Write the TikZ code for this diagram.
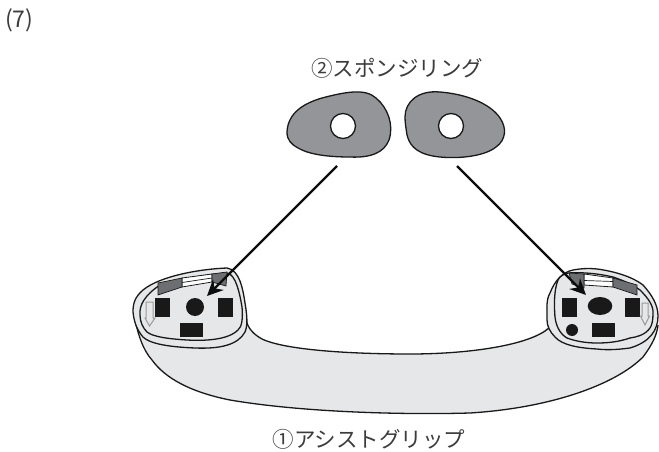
\documentclass[tikz,border=0pt]{standalone}
\usepackage{fontspec}
\setmainfont{Noto Sans CJK JP}[Scale=1]
\usetikzlibrary{arrows.meta}
\definecolor{gripfill}{HTML}{E6E7E8}
\definecolor{spongefill}{HTML}{939598}
\definecolor{tabfill}{HTML}{6D6E71}
\definecolor{inklabel}{HTML}{3C3C3C}
\tikzset{
  lbl/.style={font=\fontsize{21.5}{24}\selectfont,text=inklabel,inner sep=0pt},
  sponge/.style={draw=black!90,line width=1.3pt,fill=spongefill},
  hole/.style={circle,draw=black!90,line width=1.3pt,fill=white,minimum size=25pt,inner sep=0pt},
  gripline/.style={draw=black!90,line width=1.3pt},
  solid part/.style={fill=black!90,draw=none},
  pointer/.style={draw=black!95,line width=2.2pt,-{Stealth[length=16pt,width=15pt]}},
  slider/.style={draw=black!90,line width=.8pt,fill=white},
  tab/.style={draw=black!90,line width=.7pt,fill=tabfill},
  downarrow/.style={draw=black!40,line width=1pt,fill=gripfill}
}
\begin{document}
\begin{tikzpicture}[x=1pt,y=-1pt]
\useasboundingbox (0,0) rectangle (659,452);
\fill[white] (0,0) rectangle (659,452);
\node[lbl,anchor=west,font=\fontsize{23}{26}\selectfont] (num) at (5,20) {(7)};
\node[lbl] (lab2) at (397,68) {②スポンジリング};
\node[lbl] (lab1) at (369,439) {①アシストグリップ};
% sponge rings
\draw[sponge] (287,132) .. controls (288,112) and (305,103) .. (322,98)
  .. controls (345,92) and (365,88) .. (376,98)
  .. controls (388,108) and (394,125) .. (389,140)
  .. controls (384,153) and (370,158) .. (350,157)
  .. controls (330,157) and (310,155) .. (298,148)
  .. controls (291,144) and (287,140) .. (287,132) -- cycle;
\draw[sponge] (405,117) .. controls (405,102) and (418,90) .. (440,92)
  .. controls (465,94) and (490,103) .. (500,118)
  .. controls (507,128) and (506,140) .. (496,147)
  .. controls (485,156) and (460,159) .. (440,157)
  .. controls (420,155) and (410,148) .. (407,135)
  .. controls (406,128) and (405,123) .. (405,117) -- cycle;
\node[hole] (h1) at (343,126) {};
\node[hole] (h2) at (451,126) {};
% grip body
\fill[gripfill] (134,315)
  .. controls (138,335) and (143,350) .. (152,360)
  .. controls (165,378) and (190,392) .. (230,400)
  .. controls (300,412) and (400,415) .. (470,413)
  .. controls (550,408) and (615,385) .. (643,357)
  .. controls (652,345) and (657,335) .. (658,325)
  -- (550,325)
  .. controls (530,345) and (470,354) .. (410,354)
  .. controls (350,354) and (285,350) .. (262,339)
  .. controls (253,334) and (248,328) .. (246,320) -- cycle;
\draw[gripline] (134,315)
  .. controls (138,335) and (143,350) .. (152,360)
  .. controls (165,378) and (190,392) .. (230,400)
  .. controls (300,412) and (400,415) .. (470,413)
  .. controls (550,408) and (615,385) .. (643,357)
  .. controls (652,345) and (657,335) .. (658,325);
\draw[gripline] (246,320) .. controls (248,328) and (253,334) .. (262,339)
  .. controls (285,350) and (350,354) .. (410,354)
  .. controls (470,354) and (530,345) .. (549,328);
% left lip
\draw[gripline,fill=gripfill] (133,312)
  .. controls (133,303) and (135,297) .. (143,290)
  .. controls (160,276) and (200,269) .. (227,268)
  .. controls (240,270) and (243,290) .. (245,303)
  .. controls (247,315) and (248,325) .. (245,332)
  .. controls (238,345) and (220,349) .. (195,348)
  .. controls (170,347) and (150,344) .. (143,337)
  .. controls (137,330) and (134,322) .. (133,312) -- cycle;
\draw[gripline,fill=gripfill] (140,315)
  .. controls (139,305) and (145,295) .. (160,285)
  .. controls (180,279) and (210,274) .. (227,273)
  .. controls (236,274) and (240,295) .. (242,307)
  .. controls (243,318) and (242,327) .. (238,330)
  .. controls (228,340) and (205,341) .. (187,340)
  .. controls (170,339) and (153,337) .. (147,332)
  .. controls (143,328) and (140,322) .. (140,315) -- cycle;
% right lip
\draw[gripline,fill=gripfill] (547,320)
  .. controls (547,308) and (546,300) .. (550,293)
  .. controls (555,280) and (563,272) .. (573,270)
  .. controls (590,267) and (600,269) .. (613,272)
  .. controls (625,275) and (635,279) .. (643,285)
  .. controls (652,295) and (658,305) .. (658,316)
  .. controls (658,330) and (650,342) .. (630,348)
  .. controls (615,350) and (605,350) .. (597,349)
  .. controls (578,348) and (562,345) .. (555,337)
  .. controls (550,332) and (547,326) .. (547,320) -- cycle;
\draw[gripline,fill=gripfill] (555,317)
  .. controls (554,305) and (554,290) .. (558,280)
  .. controls (560,276) and (564,274) .. (568,273)
  .. controls (585,272) and (600,274) .. (613,277)
  .. controls (625,281) and (633,285) .. (640,290)
  .. controls (648,298) and (654,306) .. (653,314)
  .. controls (653,320) and (652,325) .. (650,328)
  .. controls (645,335) and (637,337) .. (630,338)
  .. controls (618,342) and (608,343) .. (597,343)
  .. controls (585,343) and (575,341) .. (567,338)
  .. controls (560,334) and (556,326) .. (555,317) -- cycle;
% sliders left
\draw[slider] (182,278) -- (212,274) -- (212,282) -- (182,287) -- cycle;
\draw[black!90,line width=.7pt] (182,282.5) -- (212,278);
\draw[tab] (158,283) -- (182,278) -- (182,287) -- (158,295) -- cycle;
\draw[tab] (212,274) -- (227,272) -- (226,286) -- (212,282) -- cycle;
% sliders right
\draw[slider] (584,274) -- (613,278) -- (613,287) -- (584,285) -- cycle;
\draw[black!90,line width=.7pt] (584,280.5) -- (613,281.5);
\draw[tab] (569,273) -- (584,274) -- (584,288) -- (572,284) -- cycle;
\draw[tab] (613,278) -- (637,285) -- (637,295) -- (613,287) -- cycle;
% solid parts left
\fill[solid part] (155,298) rectangle (170,317);
\fill[solid part] (218,298) rectangle (233,317);
\fill[solid part] (180,323) rectangle (203,337);
\fill[solid part] (195,307) circle (9pt);
% solid parts right
\fill[solid part] (562,298) rectangle (577,317);
\fill[solid part] (625,298) rectangle (640,317);
\fill[solid part] (592,323) rectangle (615,337);
\fill[solid part] (600,306) ellipse (12.3pt and 9pt);
\fill[solid part] (572,330) circle (6pt);
% down arrows
\draw[downarrow] (146,302) -- (153,302) -- (153,318) -- (155,318) -- (149.5,326) -- (145,318) -- (146,318) -- cycle;
\draw[downarrow] (642,303) -- (648,303) -- (648,316) -- (649.5,316) -- (645,325) -- (640.5,316) -- (642,316) -- cycle;
% pointers
\coordinate (t1) at (207,296);
\coordinate (t2) at (586,295);
\coordinate (s1) at (337,166);
\coordinate (s2) at (457,166);
\draw[pointer] (s1) -- (t1);
\draw[pointer] (s2) -- (t2);
\end{tikzpicture}
\end{document}
